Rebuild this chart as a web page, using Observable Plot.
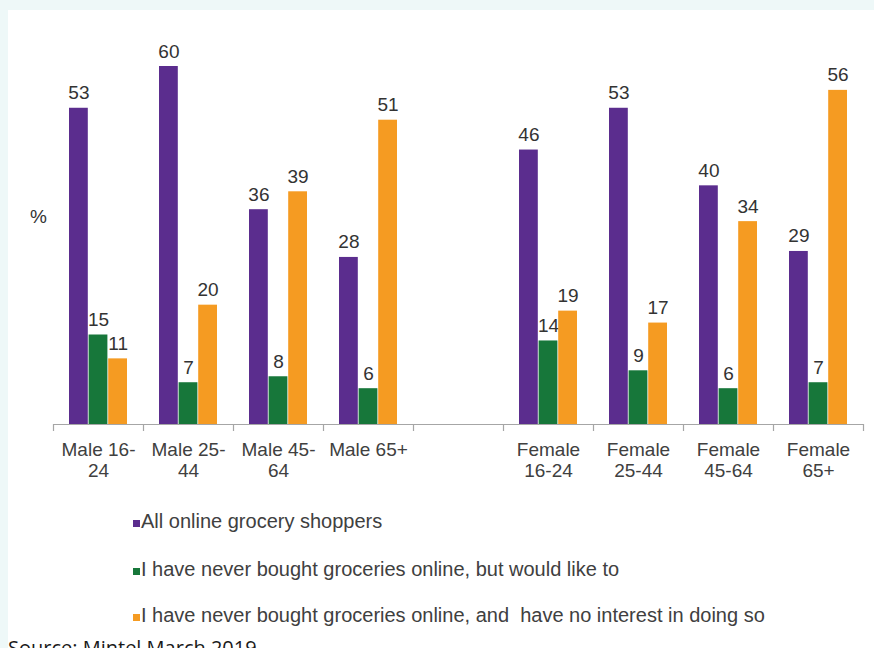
<!DOCTYPE html>
<html>
<head>
<meta charset="utf-8">
<script src="https://cdn.jsdelivr.net/npm/d3@7"></script>
<script src="https://cdn.jsdelivr.net/npm/@observablehq/plot@0.6"></script>
<style>
  body { margin: 0; background: #eef8f8; width: 874px; height: 648px; overflow: hidden; }
  #panel { position: absolute; left: 8px; top: 10px; width: 866px; height: 638px; background: #fff; overflow: hidden; font-family: "Liberation Sans", Arial, sans-serif; }
  #chart { position: absolute; left: 0; top: 0; }
  .pct { position: absolute; left: 22px; top: 197px; font-size: 19px; color: #333; line-height: 19px; }
  .leg { position: absolute; left: 125px; font-size: 20px; line-height: 20px; color: #404040; white-space: pre; }
  .leg .sw { position: absolute; left: 0; top: 9px; width: 7px; height: 7px; }
  .leg .tx { position: absolute; left: 8px; top: 0; }
  .caption { position: absolute; left: 0; top: 628px; font-family: "Open Sans", sans-serif; font-size: 20px; line-height: 20px; color: #1a1a1a; white-space: pre; }
</style>
</head>
<body>
<div id="panel">
  <div id="chart"></div>
  <div class="pct">%</div>
  <div id="legend"></div>
  <div class="caption">Source: Mintel March 2019</div>
</div>
<script>
// ---- data ----
const categories = ["Male 16-24", "Male 25-44", "Male 45-64", "Male 65+", "Female 16-24", "Female 25-44", "Female 45-64", "Female 65+"];
const tickLabels = ["Male 16-\n24", "Male 25-\n44", "Male 45-\n64", "Male 65+", "Female\n16-24", "Female\n25-44", "Female\n45-64", "Female\n65+"];
const seriesNames = [
  "All online grocery shoppers",
  "I have never bought groceries online, but would like to",
  "I have never bought groceries online, and  have no interest in doing so"
];
const allShoppers = [53, 60, 36, 28, 46, 53, 40, 29];
const wouldLike   = [15, 7, 8, 6, 14, 9, 6, 7];
const noInterest  = [11, 20, 39, 51, 19, 17, 34, 56];
const seriesColors = ["#5b2d8e", "#17773a", "#f59b22"];

// ---- build table ----
const seriesValues = [allShoppers, wouldLike, noInterest];
const gapKey = " ";
const xDomain = [...categories.slice(0, 4), gapKey, ...categories.slice(4)];
const rows = [];
seriesValues.forEach((vals, s) => vals.forEach((v, i) => rows.push({cat: categories[i], s, value: v})));

// bar layout within each 90px slot
const barStart = 16, barW = 18.8, barStep = 19.6, band = 90;

const marks = [];
seriesValues.forEach((vals, s) => {
  const data = rows.filter(d => d.s === s);
  const left = barStart + s * barStep;
  marks.push(Plot.barY(data, {
    x: "cat", y: "value", fill: seriesColors[s],
    insetLeft: left, insetRight: band - left - barW
  }));
  marks.push(Plot.text(data, {
    x: "cat", y: "value", text: d => String(d.value),
    dx: left + barW / 2 - band / 2, dy: -9, lineAnchor: "bottom",
    fontSize: 19, fill: "#333"
  }));
});

// baseline and boundary ticks
marks.push(Plot.ruleY([0], {stroke: "#a6a6a6", strokeWidth: 1.2}));
marks.push(Plot.ruleX(xDomain, {x: d => d, y1: 0, y2: 0, insetBottom: -7, dx: -band / 2, stroke: "#a6a6a6", strokeWidth: 1.2}));
marks.push(Plot.ruleX([xDomain[xDomain.length - 1]], {x: d => d, y1: 0, y2: 0, insetBottom: -7, dx: band / 2, stroke: "#a6a6a6", strokeWidth: 1.2}));

// category labels
marks.push(Plot.text(categories, {
  x: d => d, y: () => 0, text: (d, i) => tickLabels[i],
  lineAnchor: "top", dy: 17, lineHeight: 1.1, fontSize: 19, fill: "#404040"
}));

const chart = Plot.plot({
  width: 866,
  height: 500,
  marginLeft: 45,
  marginRight: 11,
  marginTop: 56,
  marginBottom: 86,
  style: {fontFamily: "Liberation Sans, Arial, sans-serif", background: "transparent"},
  x: {domain: xDomain, padding: 0, axis: null},
  y: {domain: [0, 60], axis: null},
  marks
});
document.getElementById("chart").appendChild(chart);

// legend
const legendTops = [501, 549, 595];
const legend = document.getElementById("legend");
seriesNames.forEach((name, i) => {
  const row = document.createElement("div");
  row.className = "leg";
  row.style.top = legendTops[i] + "px";
  const sw = document.createElement("span");
  sw.className = "sw";
  sw.style.background = seriesColors[i];
  const tx = document.createElement("span");
  tx.className = "tx";
  tx.textContent = name;
  row.appendChild(sw);
  row.appendChild(tx);
  legend.appendChild(row);
});
</script>
</body>
</html>
